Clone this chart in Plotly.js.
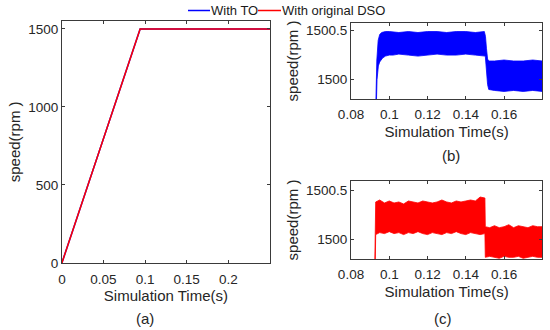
<!DOCTYPE html>
<html>
<head>
<meta charset="utf-8">
<script src="https://cdn.plot.ly/plotly-3.0.1.min.js"></script>
<style>html,body{margin:0;padding:0;background:#fff}#chart{width:550px;height:330px}</style>
</head>
<body>
<div id="chart"></div>
<script>
// ---- Panel (a): full speed response ----
var aTimeX = [0, 0.094, 0.25];
var aSpeedTO = [0, 1500, 1500];
var aSpeedDSO = [0, 1500, 1500];

// ---- Panel (b): With TO, envelope of oscillation band ----
var bUpperX = [0.0915, 0.0929, 0.0935, 0.0942, 0.095, 0.096, 0.098, 0.100, 0.105, 0.110, 0.115, 0.120, 0.125, 0.130, 0.135, 0.140, 0.145, 0.1497, 0.1503, 0.1508, 0.1514, 0.152, 0.155, 0.160, 0.165, 0.170, 0.175, 0.180];
var bUpperY = [1498.5, 1499.8, 1500.2, 1500.4, 1500.46, 1500.48, 1500.49, 1500.49, 1500.48, 1500.49, 1500.48, 1500.49, 1500.49, 1500.48, 1500.49, 1500.49, 1500.48, 1500.49, 1500.44, 1500.32, 1500.21, 1500.19, 1500.19, 1500.2, 1500.19, 1500.19, 1500.2, 1500.19];
var bLowerX = [0.0915, 0.0929, 0.0936, 0.0943, 0.095, 0.0965, 0.098, 0.100, 0.102, 0.105, 0.110, 0.115, 0.120, 0.125, 0.130, 0.135, 0.140, 0.145, 0.1502, 0.1508, 0.1514, 0.152, 0.155, 0.160, 0.165, 0.170, 0.175, 0.180];
var bLowerY = [1498.5, 1499.8, 1500.0, 1500.14, 1500.18, 1500.22, 1500.24, 1500.25, 1500.25, 1500.26, 1500.25, 1500.24, 1500.25, 1500.26, 1500.25, 1500.25, 1500.26, 1500.25, 1500.24, 1500.1, 1499.95, 1499.9, 1499.89, 1499.88, 1499.89, 1499.88, 1499.89, 1499.88];

// ---- Panel (c): With original DSO, envelope of oscillation band ----
var cUpperX = [0.0915, 0.0927, 0.0929, 0.095, 0.0975, 0.100, 0.1025, 0.105, 0.1075, 0.110, 0.1125, 0.115, 0.1175, 0.120, 0.1225, 0.125, 0.1275, 0.130, 0.1325, 0.135, 0.1375, 0.140, 0.1425, 0.145, 0.1475, 0.1500, 0.1502, 0.1525, 0.155, 0.1575, 0.160, 0.1625, 0.165, 0.1675, 0.170, 0.1725, 0.175, 0.1775, 0.180];
var cUpperY = [1498.5, 1499.8, 1500.38, 1500.4, 1500.37, 1500.39, 1500.37, 1500.38, 1500.36, 1500.39, 1500.38, 1500.37, 1500.39, 1500.38, 1500.37, 1500.38, 1500.4, 1500.38, 1500.37, 1500.39, 1500.38, 1500.39, 1500.4, 1500.39, 1500.43, 1500.42, 1500.13, 1500.12, 1500.14, 1500.12, 1500.13, 1500.15, 1500.12, 1500.14, 1500.13, 1500.12, 1500.14, 1500.13, 1500.13];
var cLowerX = [0.0915, 0.0927, 0.0929, 0.095, 0.0975, 0.100, 0.1025, 0.105, 0.1075, 0.110, 0.1125, 0.115, 0.1175, 0.120, 0.1225, 0.125, 0.1275, 0.130, 0.1325, 0.135, 0.1375, 0.140, 0.1425, 0.145, 0.1475, 0.1500, 0.1502, 0.1525, 0.155, 0.1575, 0.160, 0.1625, 0.165, 0.1675, 0.170, 0.1725, 0.175, 0.1775, 0.180];
var cLowerY = [1498.5, 1499.8, 1500.05, 1500.07, 1500.06, 1500.08, 1500.06, 1500.07, 1500.05, 1500.07, 1500.06, 1500.08, 1500.06, 1500.05, 1500.07, 1500.06, 1500.05, 1500.07, 1500.06, 1500.08, 1500.06, 1500.05, 1500.07, 1500.06, 1500.05, 1500.06, 1499.82, 1499.83, 1499.82, 1499.81, 1499.83, 1499.82, 1499.82, 1499.83, 1499.81, 1499.82, 1499.83, 1499.82, 1499.82];

var legendNames = ['With TO', 'With original DSO'];
var aXTicks = [0, 0.05, 0.1, 0.15, 0.2];
var aXTickText = ['0', '0.05', '0.1', '0.15', '0.2'];
var aYTicks = [0, 500, 1000, 1500];
var bcXTicks = [0.08, 0.1, 0.12, 0.14, 0.16];
var bcXTickText = ['0.08', '0.1', '0.12', '0.14', '0.16'];
var bcYTicks = [1500, 1500.5];
var bcYTickText = ['1500', '1500.5'];

var BLUE = '#0000FF', RED = '#FF0000';

function band(ux, uy, lx, ly) {
  var x = ux.slice(), y = uy.slice();
  for (var i = lx.length - 1; i >= 0; i--) { x.push(lx[i]); y.push(ly[i]); }
  x.push(ux[0]); y.push(uy[0]);
  return {x: x, y: y};
}
var bB = band(bUpperX, bUpperY, bLowerX, bLowerY);
var cB = band(cUpperX, cUpperY, cLowerX, cLowerY);

var data = [
  {x: aTimeX, y: aSpeedTO, type: 'scatter', mode: 'lines', name: legendNames[0], line: {color: BLUE, width: 1.5}, xaxis: 'x', yaxis: 'y', showlegend: false},
  {x: aTimeX, y: aSpeedDSO, type: 'scatter', mode: 'lines', name: legendNames[1], line: {color: RED, width: 1.5}, xaxis: 'x', yaxis: 'y', showlegend: false},
  {x: bB.x, y: bB.y, type: 'scatter', mode: 'lines', name: legendNames[0], fill: 'toself', fillcolor: BLUE, line: {color: BLUE, width: 0.8}, xaxis: 'x2', yaxis: 'y2', showlegend: false, hoverinfo: 'skip'},
  {x: cB.x, y: cB.y, type: 'scatter', mode: 'lines', name: legendNames[1], fill: 'toself', fillcolor: RED, line: {color: RED, width: 0.8}, xaxis: 'x3', yaxis: 'y3', showlegend: false, hoverinfo: 'skip'}
];

var FAM = 'Arial, Liberation Sans, sans-serif';
var tickFont = {family: FAM, size: 13.5, color: '#262626'};
var titleFont = {family: FAM, size: 15, color: '#262626'};
var legFont = {family: FAM, size: 13, color: '#1a1a1a'};
function ax(extra) {
  var base = {showline: true, linecolor: '#3a3a3a', linewidth: 1, mirror: 'ticks', ticks: 'inside', ticklen: 3, tickcolor: '#3a3a3a',
    showgrid: false, zeroline: false, tickfont: tickFont, automargin: false, fixedrange: true};
  for (var k in extra) base[k] = extra[k];
  return base;
}
function P(px) { return px / 550; }
function Q(py) { return 1 - py / 330; }

var layout = {
  width: 550, height: 330,
  margin: {l: 0, r: 0, t: 0, b: 0},
  paper_bgcolor: '#fff', plot_bgcolor: '#fff',
  showlegend: false,
  xaxis: ax({domain: [0.1125, 0.4909], range: [0, 0.25], tickvals: aXTicks, ticktext: aXTickText, anchor: 'y', ticklabelstandoff: 4,
    title: {text: 'Simulation Time(s)', font: titleFont, standoff: 0}}),
  yaxis: ax({domain: [0.2030, 0.9373], range: [0, 1553], tickvals: aYTicks, anchor: 'x',
    title: {text: 'speed(rpm\u00a0)', font: titleFont, standoff: 3}}),
  xaxis2: ax({domain: [0.6382, 0.986], range: [0.08, 0.18], tickvals: bcXTicks, ticktext: bcXTickText, anchor: 'y2', ticklabelstandoff: 3,
    title: {text: 'Simulation Time(s)', font: titleFont, standoff: 5}}),
  yaxis2: ax({domain: [0.6991, 0.9312], range: [1499.8, 1500.58], tickvals: bcYTicks, ticktext: bcYTickText, anchor: 'x2',
    title: {text: 'speed(rpm\u00a0)', font: titleFont, standoff: 3}}),
  xaxis3: ax({domain: [0.6382, 0.986], range: [0.08, 0.18], tickvals: bcXTicks, ticktext: bcXTickText, anchor: 'y3', ticklabelstandoff: 2,
    title: {text: 'Simulation Time(s)', font: titleFont, standoff: 5}}),
  yaxis3: ax({domain: [0.2142, 0.4524], range: [1499.8, 1500.595], tickvals: bcYTicks, ticktext: bcYTickText, anchor: 'x3',
    title: {text: 'speed(rpm\u00a0)', font: titleFont, standoff: 3}}),
  shapes: [
    {type: 'line', xref: 'paper', yref: 'paper', x0: P(188), x1: P(210), y0: Q(10.5), y1: Q(10.5), line: {color: BLUE, width: 1.5}},
    {type: 'line', xref: 'paper', yref: 'paper', x0: P(258), x1: P(281), y0: Q(10.5), y1: Q(10.5), line: {color: RED, width: 1.5}}
  ],
  annotations: [
    {text: legendNames[0], xref: 'paper', yref: 'paper', x: P(209), y: Q(11), xanchor: 'left', yanchor: 'middle', showarrow: false, font: legFont},
    {text: legendNames[1], xref: 'paper', yref: 'paper', x: P(280), y: Q(11), xanchor: 'left', yanchor: 'middle', showarrow: false, font: legFont},
    {text: '(a)', xref: 'paper', yref: 'paper', x: P(145), y: Q(318), xanchor: 'center', yanchor: 'middle', showarrow: false, font: titleFont},
    {text: '(b)', xref: 'paper', yref: 'paper', x: P(451), y: Q(155), xanchor: 'center', yanchor: 'middle', showarrow: false, font: titleFont},
    {text: '(c)', xref: 'paper', yref: 'paper', x: P(443), y: Q(318), xanchor: 'center', yanchor: 'middle', showarrow: false, font: titleFont}
  ]
};

Plotly.newPlot('chart', data, layout, {staticPlot: true, displayModeBar: false});
</script>
</body>
</html>
